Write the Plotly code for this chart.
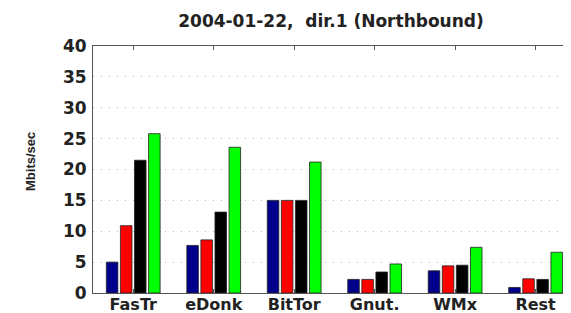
import plotly.graph_objects as go

categories = ["FasTr", "eDonk", "BitTor", "Gnut.", "WMx", "Rest"]
series_blue = [5.0, 7.7, 15.0, 2.2, 3.6, 0.9]
series_red = [10.9, 8.6, 15.0, 2.2, 4.4, 2.3]
series_black = [21.5, 13.1, 15.0, 3.4, 4.5, 2.2]
series_green = [25.8, 23.6, 21.2, 4.7, 7.4, 6.6]
y_ticks = [0, 5, 10, 15, 20, 25, 30, 35, 40]

colors = ["#00008B", "#FF0000", "#000000", "#00FF00"]
fig = go.Figure()
for vals, c in zip([series_blue, series_red, series_black, series_green], colors):
    fig.add_trace(go.Bar(x=categories, y=vals, marker=dict(color=c, line=dict(color="#222", width=0.8))))

# page body has an 8px default margin; figure is sized to end at the window edge
W, H, OFF = 563, 305, 8
font = "DejaVu Sans, Liberation Sans, Arial, sans-serif"
fig.update_layout(
    width=W, height=H,
    margin=dict(l=93 - OFF, r=0, t=46 - OFF, b=20),
    paper_bgcolor="white", plot_bgcolor="white",
    showlegend=False,
    barmode="group", bargap=0.3, bargroupgap=0.18,
    title=dict(text="2004-01-22,  dir.1 (Northbound)", x=(331 - OFF) / W, xanchor="center",
               y=1 - (21 - OFF) / H, yanchor="middle",
               font=dict(family=font, size=17, color="#222", weight="bold")),
    annotations=[dict(text="Mbits/sec", xref="paper", yref="paper",
                      x=(30 - 93) / (571 - 93), y=(293 - 161) / 247,
                      xanchor="center", yanchor="middle", textangle=-90, showarrow=False,
                      font=dict(family="Liberation Sans, Arial", size=13, color="#222", weight="bold"))],
)
fig.update_xaxes(
    range=[-0.5, 5.44], showline=True, linecolor="#555", linewidth=1, mirror="ticks",
    ticks="inside", ticklen=4, tickcolor="#555", showgrid=False, automargin=False,
    ticklabelstandoff=-3,
    tickfont=dict(family=font, size=16, color="#222", weight="bold"),
)
fig.update_yaxes(
    range=[0, 40], tickvals=y_ticks, showline=True, linecolor="#555", linewidth=1,
    ticks="", showgrid=True, gridcolor="#bbbbbb", griddash="1px,7px", gridwidth=1,
    zeroline=False, automargin=False, ticklabelstandoff=2,
    tickfont=dict(family=font, size=17, color="#222", weight="bold"),
)
fig.write_html("out.html")
